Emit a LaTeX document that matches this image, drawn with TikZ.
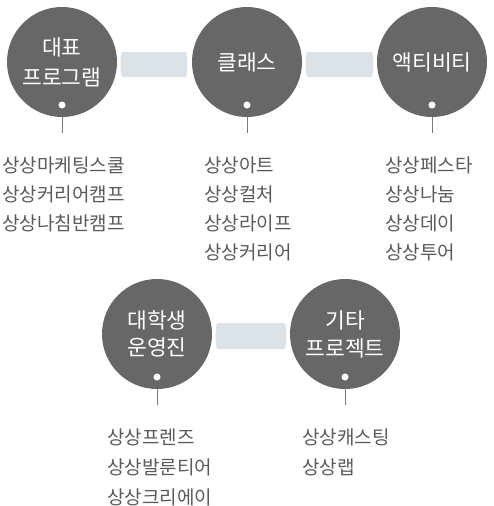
\documentclass[tikz,border=0pt]{standalone}
\usepackage{fontspec}
\setmainfont{Noto Sans CJK KR}
\definecolor{circfill}{HTML}{676767}
\definecolor{barfill}{HTML}{DDE2E6}
\definecolor{txt}{HTML}{5A5A5A}
\definecolor{stem}{HTML}{7A7A7A}
\begin{document}
\begin{tikzpicture}[x=1pt,y=-1pt,
  circ/.style={circle,fill=circfill,minimum size=110pt,inner sep=0pt,text=white,align=center,font=\fontsize{21.5}{30}\selectfont},
  dotw/.style={circle,fill=white,minimum size=7pt,inner sep=0pt},
  item/.style={anchor=west,inner sep=0pt,text=txt,font=\fontsize{19}{22}\selectfont},
  stemline/.style={draw=stem,line width=1pt},
  barshape/.style={fill=barfill}]
\useasboundingbox (0,0) rectangle (494,506);
% circles
\node[circ] (c1) at (62,62) {대표\\프로그램};
\node[circ] (c2) at (247,62) {클래스};
\node[circ] (c3) at (432,62) {액티비티};
\node[circ,font=\fontsize{21.5}{27}\selectfont] (c4) at (157,334) {대학생\\운영진};
\node[circ,font=\fontsize{21.5}{28}\selectfont] (c5) at (345,334) {기타\\프로젝트};
% bars
\fill[barshape] (122,52) -- (186,52) .. controls (188,60) and (188,69) .. (186,77) -- (122,77) .. controls (120,69) and (120,60) .. (122,52) -- cycle;
\fill[barshape] (307,52) -- (372,52) .. controls (374,60) and (374,69) .. (372,77) -- (307,77) .. controls (305,69) and (305,60) .. (307,52) -- cycle;
\fill[barshape] (217,323) -- (285,323) .. controls (287,331) and (287,340) .. (285,349) -- (217,349) .. controls (215,340) and (215,331) .. (217,323) -- cycle;
% dots
\node[dotw] (d1) at (62,105) {};
\node[dotw] (d2) at (247,105) {};
\node[dotw] (d3) at (432,105) {};
\node[dotw] (d4) at (157,377) {};
\node[dotw] (d5) at (345,377) {};
% stems
\coordinate (e1) at (62,133);
\coordinate (e2) at (247,133);
\coordinate (e3) at (432,133);
\coordinate (e4) at (157,405);
\coordinate (e5) at (345,405);
\draw[stemline] (c1.south) -- (e1);
\draw[stemline] (c2.south) -- (e2);
\draw[stemline] (c3.south) -- (e3);
\draw[stemline] (c4.south) -- (e4);
\draw[stemline] (c5.south) -- (e5);
% lists
\node[item] (a1) at (2,165) {상상마케팅스쿨};
\node[item] (a2) at (2,194) {상상커리어캠프};
\node[item] (a3) at (2,223) {상상나침반캠프};
\node[item] (b1) at (204,165) {상상아트};
\node[item] (b2) at (204,194) {상상컬처};
\node[item] (b3) at (204,223) {상상라이프};
\node[item] (b4) at (204,252) {상상커리어};
\node[item] (f1) at (385,165) {상상페스타};
\node[item] (f2) at (385,194) {상상나눔};
\node[item] (f3) at (385,223) {상상데이};
\node[item] (f4) at (385,252) {상상투어};
\node[item] (g1) at (107,437) {상상프렌즈};
\node[item] (g2) at (107,467) {상상발룬티어};
\node[item] (g3) at (107,497) {상상크리에이};
\node[item] (h1) at (302,437) {상상캐스팅};
\node[item] (h2) at (302,467) {상상랩};
\end{tikzpicture}
\end{document}
